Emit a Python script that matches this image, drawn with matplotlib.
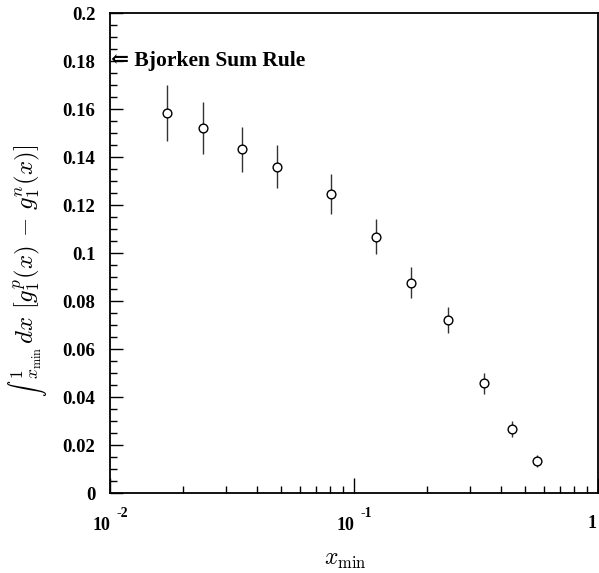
import matplotlib
matplotlib.use("Agg")
import matplotlib.pyplot as plt
import matplotlib.ticker as mticker
import matplotlib.transforms as mtrans

# --- data ---
x_min = [0.0171, 0.0240, 0.0348, 0.0483, 0.0806, 0.123, 0.171, 0.243, 0.341, 0.444, 0.562]
integral = [0.1582, 0.1521, 0.1432, 0.1360, 0.1245, 0.1068, 0.0876, 0.0720, 0.0457, 0.0267, 0.0133]
err = [0.0117, 0.0107, 0.0095, 0.0090, 0.0084, 0.0074, 0.0065, 0.0055, 0.0044, 0.0033, 0.0025]
bjorken = 0.18

y_ticks = [0, 0.02, 0.04, 0.06, 0.08, 0.1, 0.12, 0.14, 0.16, 0.18, 0.2]
y_labels = ["0", "0.02", "0.04", "0.06", "0.08", "0.1", "0.12", "0.14", "0.16", "0.18", "0.2"]
x_ticks = [0.01, 0.1, 1]
x_bases = ["10", "10", "1"]
x_exps = ["-2", "-1", ""]

plt.rcParams["mathtext.fontset"] = "cm"
serif = ["Liberation Serif", "DejaVu Serif"]

fig = plt.figure(figsize=(5.99, 5.73), dpi=100)
ax = fig.add_axes([0.1836, 0.1396, 0.8147, 0.8377])

ax.errorbar(x_min, integral, yerr=err, fmt="o", ms=6.3, mfc="white", mec="black",
            mew=1.0, ecolor="#333333", elinewidth=1.0, capsize=0, zorder=3)

ax.set_xscale("log")
ax.set_xlim(0.01, 1)
ax.set_ylim(0, 0.2)

ax.set_yticks(y_ticks)
ax.set_yticklabels(y_labels, fontfamily=serif, fontweight="bold", fontsize=13.5)
ax.yaxis.set_minor_locator(mticker.MultipleLocator(0.005))

ax.set_xticks(x_ticks)
ax.set_xticklabels([])
ax.xaxis.set_minor_locator(mticker.LogLocator(base=10, subs=range(2, 10)))
ax.xaxis.set_minor_formatter(mticker.NullFormatter())

ax.tick_params(which="both", direction="in", top=False, right=False)
ax.tick_params(axis="y", which="major", length=9, width=1, pad=10.5)
ax.tick_params(axis="y", which="minor", length=5, width=1)
ax.tick_params(axis="x", which="major", length=11, width=1)
ax.tick_params(axis="x", which="minor", length=5, width=1)
for s in ax.spines.values():
    s.set_linewidth(1.3)

# x tick labels drawn as "10" with raised exponent
trans = mtrans.blended_transform_factory(ax.transData, fig.transFigure)
for xv, b, e in zip(x_ticks, x_bases, x_exps):
    if e:
        ax.text(xv, 0.075, b, transform=trans, ha="right", va="baseline",
                fontfamily=serif, fontweight="bold", fontsize=13)
        t2 = trans + mtrans.ScaledTranslation(0.07, 0, fig.dpi_scale_trans)
        ax.text(xv, 0.098, e, transform=t2, ha="left", va="baseline",
                fontfamily=serif, fontweight="bold", fontsize=10)
    else:
        t = trans + mtrans.ScaledTranslation(-0.01, 0, fig.dpi_scale_trans)
        ax.text(xv, 0.078, b, transform=t, ha="right", va="baseline",
                fontfamily=serif, fontweight="bold", fontsize=13)

ax.text(0.0101, bjorken, "\u21d0 Bjorken Sum Rule", ha="left", va="center",
        fontfamily=serif, fontweight="bold", fontsize=15.5)

fig.text(0.576, 0.024, r"$x_{\rm min}$", ha="center", va="center", fontsize=17)

# y label: small text-style integral, then limits, then the integrand.
# It runs from y=397 px up to y=143 px (from the top) in the reference.
parts = [(r"$\int$", 0.65), (r"${}^{1}_{x_{\rm min}}$", 1.0),
         (r"$\,dx\ [g_1^p(x)\, -\, g_1^n(x)]$", 1.0)]
renderer = fig.canvas.get_renderer()
base = 15.0
texts = [fig.text(0.055, 0.3, s, rotation=90, rotation_mode="anchor",
                  ha="left", va="baseline", fontsize=base * k) for s, k in parts]
total = sum(t.get_window_extent(renderer).height for t in texts)
scale = (397 - 143) / total
ypix = 573 - 397
for t, (s, k) in zip(texts, parts):
    t.set_fontsize(base * k * scale)
    t.set_position((0.055, ypix / 573))
    ypix += t.get_window_extent(renderer).height

fig.savefig("out.png", dpi=100)
